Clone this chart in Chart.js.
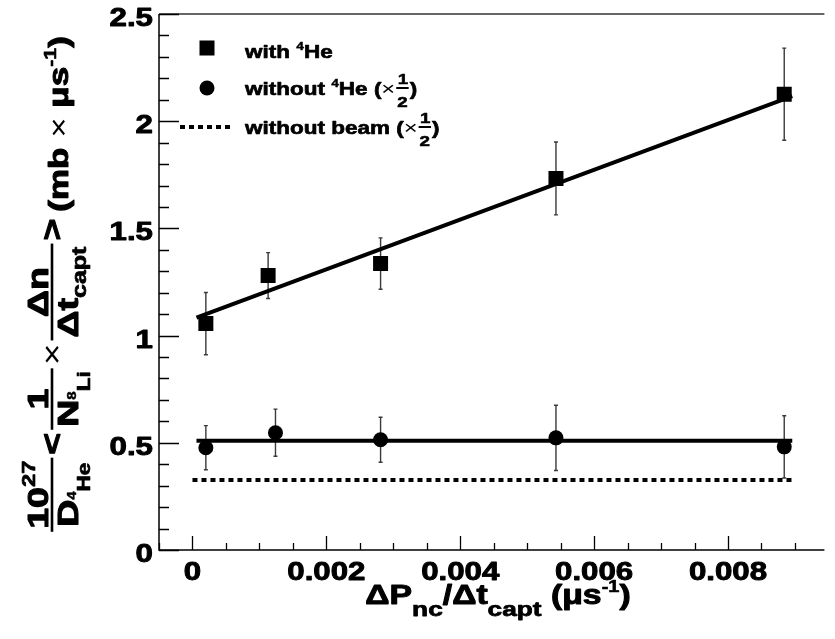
<!DOCTYPE html>
<html>
<head>
<meta charset="utf-8">
<script src="https://cdn.jsdelivr.net/npm/chart.js@4"></script>
<style>
  html, body { margin: 0; padding: 0; background: #fff; overflow: hidden; }
  #wrap { width: 835px; height: 639px; }
</style>
</head>
<body>
<div id="wrap"><canvas id="chart" width="835" height="639"></canvas></div>
<script>
// data
const xWithHe = [0.0002, 0.00113, 0.00281, 0.00543, 0.00884];
const yWithHe = [1.056, 1.28, 1.336, 1.733, 2.126];
const errWithHe = [0.145, 0.107, 0.12, 0.17, 0.215];

const xWithoutHe = [0.0002, 0.00124, 0.00281, 0.00543, 0.00884];
const yWithoutHe = [0.477, 0.547, 0.514, 0.523, 0.481];
const errWithoutHe = [0.103, 0.11, 0.105, 0.152, 0.145];

const fitWithHeX = [0.00006, 0.00896];
const fitWithHeY = [1.084, 2.117];
const fitWithoutHeX = [0.00006, 0.00896];
const fitWithoutHeY = [0.509, 0.509];
const beamX = [0.0, 0.00895];
const beamY = [0.327, 0.327];

const xMajorTicks = [0, 0.002, 0.004, 0.006, 0.008];
const xTickLabels = ['0', '0.002', '0.004', '0.006', '0.008'];
const yMajorTicks = [0, 0.5, 1, 1.5, 2, 2.5];
const yTickLabels = ['0', '0.5', '1', '1.5', '2', '2.5'];

const SX = 1.25; // text is drawn a bit wide, like the original
const font = (s, w) => `${w || 'bold'} ${s}px "Liberation Sans", Arial, sans-serif`;

function tw(ctx, t, s, w) {
  ctx.font = font(s, w);
  return ctx.measureText(t).width * SX;
}
function tx(ctx, t, x, y, s, w) {
  ctx.save();
  ctx.font = font(s, w);
  ctx.translate(x, y);
  ctx.scale(SX, 1);
  ctx.textAlign = 'left';
  ctx.textBaseline = 'alphabetic';
  ctx.fillText(t, 0, 0);
  if (w !== 'normal') {
    // slightly heavier strokes
    ctx.lineWidth = s / 28;
    ctx.lineJoin = 'round';
    ctx.strokeStyle = ctx.fillStyle;
    ctx.strokeText(t, 0, 0);
  }
  ctx.restore();
}
function runsWidth(ctx, runs) {
  return runs.reduce((w, r) => w + tw(ctx, r.t, r.s, r.w) + (r.gap || 0), 0);
}
function drawRuns(ctx, runs, x, y) {
  runs.forEach(r => {
    tx(ctx, r.t, x, y + (r.dy || 0), r.s, r.w);
    x += tw(ctx, r.t, r.s, r.w) + (r.gap || 0);
  });
  return x;
}
function smallFrac(ctx, x, y, s) {
  // stacked 1/2 next to the legend text
  const w = tw(ctx, '2', s) + 2;
  ctx.fillRect(x, y - 8, w, 2);
  tx(ctx, '1', x + 1.5, y - 11, s);
  tx(ctx, '2', x + 1, y + 6 + s * 0.4, s);
  return x + w + 1;
}
function pts(xs, ys) {
  return xs.map((x, i) => ({ x: x, y: ys[i] }));
}

const frameAndText = {
  id: 'frameAndText',
  beforeDatasetsDraw(chart) {
    const ctx = chart.ctx;
    const xs = chart.scales.x, ys = chart.scales.y;
    ctx.save();
    ctx.strokeStyle = '#3a3a3a';
    ctx.lineWidth = 1.4;
    const bars = [[xWithHe, yWithHe, errWithHe], [xWithoutHe, yWithoutHe, errWithoutHe]];
    bars.forEach(([bx, by, be]) => {
      bx.forEach((v, i) => {
        const px = xs.getPixelForValue(v);
        const p1 = ys.getPixelForValue(by[i] + be[i]);
        const p2 = ys.getPixelForValue(by[i] - be[i]);
        ctx.beginPath();
        ctx.moveTo(px, p1); ctx.lineTo(px, p2);
        ctx.moveTo(px - 2, p1); ctx.lineTo(px + 2, p1);
        ctx.moveTo(px - 2, p2); ctx.lineTo(px + 2, p2);
        ctx.stroke();
      });
    });
    ctx.restore();
  },
  afterDraw(chart) {
    const ctx = chart.ctx;
    const a = chart.chartArea;
    const xs = chart.scales.x, ys = chart.scales.y;
    ctx.save();
    ctx.fillStyle = '#000';

    // frame: axes left and bottom, top line of the frame
    ctx.lineWidth = 1.5;
    ctx.strokeStyle = '#333';
    ctx.beginPath();
    ctx.moveTo(a.left, a.top); ctx.lineTo(a.right, a.top);
    ctx.stroke();
    ctx.strokeStyle = '#000';
    ctx.beginPath();
    ctx.moveTo(a.left, a.top); ctx.lineTo(a.left, a.bottom); ctx.lineTo(a.right, a.bottom);
    ctx.stroke();

    // x ticks (inside)
    ctx.lineWidth = 1.3;
    ctx.beginPath();
    for (let v = -0.0005; v <= 0.0093; v += 0.0005) {
      const px = Math.round(xs.getPixelForValue(v)) + 0.5;
      const major = xMajorTicks.some(m => Math.abs(m - v) < 1e-7);
      ctx.moveTo(px, a.bottom);
      ctx.lineTo(px, a.bottom - (major ? 14 : 7));
    }
    // y ticks (inside)
    for (let v = 0; v <= 2.5 + 1e-9; v += 0.1) {
      const py = Math.round(ys.getPixelForValue(v)) + 0.5;
      const major = yMajorTicks.some(m => Math.abs(m - v) < 1e-7);
      ctx.moveTo(a.left, py);
      ctx.lineTo(a.left + (major ? 20 : 10), py);
    }
    ctx.stroke();

    // tick labels
    xMajorTicks.forEach((v, i) => {
      const w = tw(ctx, xTickLabels[i], 25);
      tx(ctx, xTickLabels[i], xs.getPixelForValue(v) - w / 2, a.bottom + 30, 25);
    });
    yMajorTicks.forEach((v, i) => {
      const w = tw(ctx, yTickLabels[i], 25);
      tx(ctx, yTickLabels[i], a.left - 6 - w, ys.getPixelForValue(v) + 12, 25);
    });

    // x title
    const xt = [
      { t: '\u0394P', s: 27 }, { t: 'nc', s: 21, dy: 12 },
      { t: '/\u0394t', s: 27 }, { t: 'capt', s: 21, dy: 12 },
      { t: ' (\u03bcs', s: 27 }, { t: '-1', s: 16, dy: -12 }, { t: ')', s: 27 }
    ];
    const xw = runsWidth(ctx, xt);
    drawRuns(ctx, xt, 498 - xw / 2, 604);

    // y title, written bottom to top
    ctx.save();
    ctx.translate(52, (a.top + a.bottom) / 2);
    ctx.rotate(-Math.PI / 2);
    const S = 30;
    const boxes = [];
    const frac = (num, den) => {
      const wn = runsWidth(ctx, num), wd = runsWidth(ctx, den);
      const w = Math.max(wn, wd) + 6;
      boxes.push({ w: w, draw: x => {
        ctx.fillRect(x, -1.3, w, 2.6);
        drawRuns(ctx, num, x + (w - wn) / 2, -4);
        drawRuns(ctx, den, x + (w - wd) / 2, 4 + S * 0.72);
      } });
    };
    const op = (t, s, dy, wt) => {
      const w = tw(ctx, t, s, wt) + 6;
      boxes.push({ w: w, draw: x => tx(ctx, t, x + 3, dy, s, wt) });
    };
    frac([{ t: '10', s: S }, { t: '27', s: 19, dy: -13 }],
         [{ t: 'D', s: S }, { t: '4', s: 12, dy: -2 }, { t: 'He', s: 18, dy: 12 }]);
    op('<', S, 10);
    frac([{ t: '1', s: S }],
         [{ t: 'N', s: S }, { t: '8', s: 12, dy: -2 }, { t: 'Li', s: 18, dy: 12 }]);
    op('\u00d7', 30, 10, 'normal');
    frac([{ t: '\u0394n', s: S }],
         [{ t: '\u0394t', s: S }, { t: 'capt', s: 20, dy: 8 }]);
    op('>', S, 10);
    const tail = [{ t: '(mb ', s: 28 }, { t: '\u00d7', s: 28, w: 'normal' }, { t: ' \u03bcs', s: 28 },
                  { t: '-1', s: 17, dy: -12 }, { t: ')', s: 28 }];
    const tailW = runsWidth(ctx, tail) + 4;
    boxes.push({ w: tailW, draw: x => drawRuns(ctx, tail, x + 4, 16) });
    const total = boxes.reduce((s, b) => s + b.w, 0);
    let cx = -total / 2 - 2;
    boxes.forEach(b => { b.draw(cx); cx += b.w; });
    ctx.restore();

    // legend
    ctx.fillRect(207 - 7.5, 48 - 7.5, 15, 15);
    ctx.beginPath();
    ctx.arc(207, 88, 7.5, 0, Math.PI * 2);
    ctx.fill();
    ctx.lineWidth = 4;
    ctx.setLineDash([5, 4]);
    ctx.beginPath();
    ctx.moveTo(180, 127); ctx.lineTo(230, 127);
    ctx.stroke();
    ctx.setLineDash([]);

    drawRuns(ctx, [{ t: 'with ', s: 18 }, { t: '4', s: 11, dy: -8 }, { t: 'He', s: 18 }], 245, 58);
    let lx = drawRuns(ctx, [{ t: 'without ', s: 18 }, { t: '4', s: 11, dy: -8 }, { t: 'He (', s: 18 },
                            { t: '\u00d7', s: 19, w: 'normal' }], 245, 95);
    lx = smallFrac(ctx, lx + 1, 95, 15);
    tx(ctx, ')', lx, 95, 18);
    lx = drawRuns(ctx, [{ t: 'without beam (', s: 18 }, { t: '\u00d7', s: 19, w: 'normal' }], 245, 134);
    lx = smallFrac(ctx, lx + 1, 134, 15);
    tx(ctx, ')', lx, 134, 18);

    ctx.restore();
  }
};

const noSpace = s => { if (s.isHorizontal()) s.height = 0; else s.width = 0; };

new Chart(document.getElementById('chart'), {
  type: 'scatter',
  data: {
    datasets: [
      { label: 'with 4He', data: pts(xWithHe, yWithHe), pointStyle: 'rect', pointRadius: 10.6,
        backgroundColor: '#000', borderWidth: 0 },
      { label: 'without 4He', data: pts(xWithoutHe, yWithoutHe), pointStyle: 'circle', pointRadius: 7.5,
        backgroundColor: '#000', borderWidth: 0 },
      { label: 'fit with 4He', data: pts(fitWithHeX, fitWithHeY), showLine: true, pointRadius: 0,
        borderColor: '#000', borderWidth: 4 },
      { label: 'fit without 4He', data: pts(fitWithoutHeX, fitWithoutHeY), showLine: true, pointRadius: 0,
        borderColor: '#000', borderWidth: 4 },
      { label: 'without beam', data: pts(beamX, beamY), showLine: true, pointRadius: 0,
        borderColor: '#000', borderWidth: 4, borderDash: [5, 4] }
    ]
  },
  options: {
    responsive: false,
    animation: false,
    layout: { padding: { left: 159, top: 14, right: 0, bottom: 89 } },
    plugins: { legend: { display: false }, tooltip: { enabled: false } },
    scales: {
      x: { type: 'linear', min: -0.0005, max: 0.00944, afterFit: noSpace,
           ticks: { display: false }, grid: { display: false }, border: { display: false } },
      y: { type: 'linear', min: 0, max: 2.5, afterFit: noSpace,
           ticks: { display: false }, grid: { display: false }, border: { display: false } }
    }
  },
  plugins: [frameAndText]
});
</script>
</body>
</html>
